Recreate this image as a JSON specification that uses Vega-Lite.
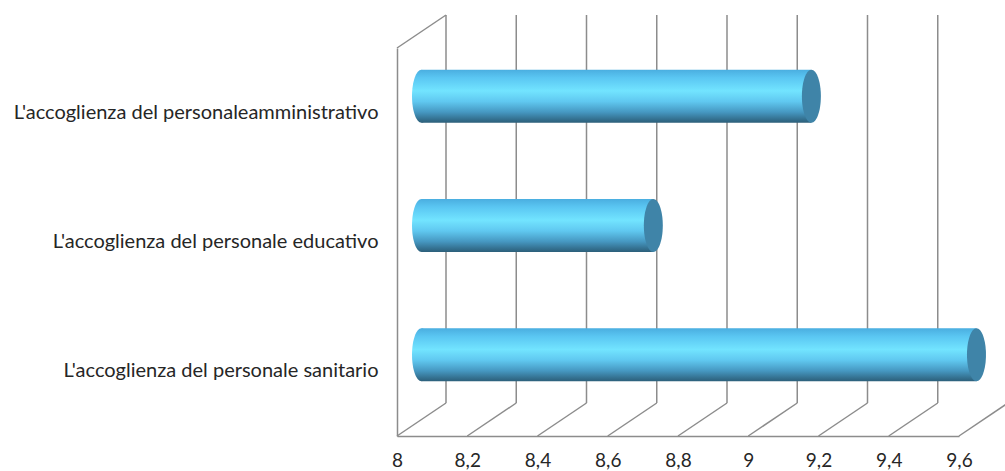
{
  "$schema": "https://vega.github.io/schema/vega-lite/v6.json",
  "width": 562,
  "height": 388,
  "autosize": {"type": "none"},
  "padding": {"left": 397, "top": 48, "right": 46, "bottom": 35},
  "background": "#ffffff",
  "config": {
    "view": {"stroke": null},
    "font": "Lato"
  },
  "datasets": {
    "griglia": [
      {"v": 8}, {"v": 8.2}, {"v": 8.4}, {"v": 8.6}, {"v": 8.8},
      {"v": 9}, {"v": 9.2}, {"v": 9.4}, {"v": 9.6}
    ],
    "giudizi": [
      {"voce": "L'accoglienza del personaleamministrativo", "punteggio": 9.11},
      {"voce": "L'accoglienza del personale educativo", "punteggio": 8.66},
      {"voce": "L'accoglienza del personale sanitario", "punteggio": 9.58}
    ]
  },
  "layer": [
    {
      "data": {"name": "griglia"},
      "layer": [
        {
          "mark": {"type": "rule", "color": "#8c8c8c", "strokeWidth": 1.5, "xOffset": 49, "yOffset": -33, "y2Offset": -33},
          "encoding": {
            "x": {
              "field": "v", "type": "quantitative",
              "scale": {"domain": [8, 9.6], "zero": false, "nice": false},
              "axis": {
                "values": [8, 8.2, 8.4, 8.6, 8.8, 9, 9.2, 9.4, 9.6],
                "labelExpr": "replace(format(datum.value, '~g'), '.', ',')",
                "grid": false, "ticks": false,
                "domain": true, "domainColor": "#8c8c8c", "domainWidth": 1.5,
                "labelPadding": 15, "labelFontSize": 19, "labelColor": "#262626",
                "labelFont": "Lato", "labelFlush": false, "labelOverlap": false,
                "title": null
              }
            },
            "y": {"datum": 0, "type": "quantitative", "scale": {"domain": [0, 1], "nice": false, "zero": false}, "axis": null},
            "y2": {"datum": 1}
          }
        },
        {
          "mark": {"type": "rule", "color": "#8c8c8c", "strokeWidth": 1.5, "x2Offset": 49, "y2Offset": -33},
          "encoding": {
            "x": {"field": "v", "type": "quantitative"},
            "x2": {"field": "v"},
            "y": {"datum": 0, "type": "quantitative"},
            "y2": {"datum": 0}
          }
        },
        {
          "data": {"values": [{"v": 8}]},
          "mark": {"type": "rule", "color": "#8c8c8c", "strokeWidth": 1.5, "x2Offset": 49, "y2Offset": -33},
          "encoding": {
            "x": {"field": "v", "type": "quantitative"},
            "x2": {"field": "v"},
            "y": {"datum": 1, "type": "quantitative"},
            "y2": {"datum": 1}
          }
        }
      ]
    },
    {
      "data": {"name": "giudizi"},
      "encoding": {
        "y": {
          "field": "voce", "type": "nominal",
          "sort": [
            "L'accoglienza del personaleamministrativo",
            "L'accoglienza del personale educativo",
            "L'accoglienza del personale sanitario"
          ],
          "scale": {"paddingInner": 0, "paddingOuter": 0},
          "axis": {
            "orient": "left", "title": null, "ticks": false,
            "domain": true, "domainColor": "#8c8c8c", "domainWidth": 1.5,
            "labelPadding": 19, "labelFontSize": 20, "labelColor": "#262626",
            "labelFont": "Lato", "labelLimit": 0
          }
        }
      },
      "layer": [
        {
          "mark": {
            "type": "bar", "height": 53, "xOffset": 24.5, "x2Offset": 24.5, "yOffset": -16.5,
            "color": {
              "gradient": "linear", "x1": 0, "y1": 0, "x2": 0, "y2": 1,
              "stops": [
                {"offset": 0, "color": "#4aaee0"},
                {"offset": 0.15, "color": "#5ac6f2"},
                {"offset": 0.4, "color": "#72e4ff"},
                {"offset": 0.6, "color": "#60c8f0"},
                {"offset": 0.8, "color": "#4698c2"},
                {"offset": 0.94, "color": "#336f8e"},
                {"offset": 1, "color": "#2c5f7a"}
              ]
            }
          },
          "encoding": {
            "x": {"field": "punteggio", "type": "quantitative"},
            "x2": {"datum": 8}
          }
        },
        {
          "mark": {
            "type": "point", "filled": true, "size": 2809, "opacity": 1,
            "xOffset": 24.5, "yOffset": -16.5,
            "shape": "M0,-1C0.198,-1,0.358,-0.552,0.358,0C0.358,0.552,0.198,1,0,1C-0.198,1,-0.358,0.552,-0.358,0C-0.358,-0.552,-0.198,-1,0,-1Z",
            "color": {
              "gradient": "linear", "x1": 0, "y1": 0, "x2": 0, "y2": 1,
              "stops": [
                {"offset": 0, "color": "#4aaee0"},
                {"offset": 0.15, "color": "#5ac6f2"},
                {"offset": 0.4, "color": "#72e4ff"},
                {"offset": 0.6, "color": "#60c8f0"},
                {"offset": 0.8, "color": "#4698c2"},
                {"offset": 0.94, "color": "#336f8e"},
                {"offset": 1, "color": "#2c5f7a"}
              ]
            }
          },
          "encoding": {
            "x": {"datum": 8, "type": "quantitative"}
          }
        },
        {
          "mark": {
            "type": "point", "filled": true, "size": 2809, "opacity": 1,
            "xOffset": 24.5, "yOffset": -16.5,
            "shape": "M0,-1C0.198,-1,0.358,-0.552,0.358,0C0.358,0.552,0.198,1,0,1C-0.198,1,-0.358,0.552,-0.358,0C-0.358,-0.552,-0.198,-1,0,-1Z",
            "color": "#3f84a8"
          },
          "encoding": {
            "x": {"field": "punteggio", "type": "quantitative"}
          }
        }
      ]
    }
  ],
  "resolve": {"scale": {"y": "independent"}, "axis": {"y": "independent"}}
}
